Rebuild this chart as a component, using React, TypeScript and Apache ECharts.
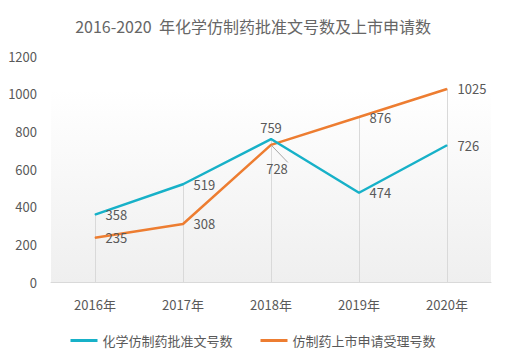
import React, { useEffect, useRef } from "react";
import * as echarts from "echarts";

const categories = ["2016年", "2017年", "2018年", "2019年", "2020年"];
const approvals = [358, 519, 759, 474, 726];
const applications = [235, 308, 728, 876, 1025];
const seriesNames = ["化学仿制药批准文号数", "仿制药上市申请受理号数"];
const titleText = "2016-2020  年化学仿制药批准文号数及上市申请数";

const FONT = "'Microsoft YaHei', 'Noto Sans CJK SC', sans-serif";
const TXT = "#595959";

export default function App() {
  const ref = useRef<HTMLDivElement>(null);
  useEffect(() => {
    if (!ref.current) return;
    const chart = echarts.init(ref.current, null, { renderer: "svg" });
    const dropData = categories.map((c, i) => [
      { coord: [i, Math.max(approvals[i], applications[i])] },
      { coord: [i, 0] },
    ]);
    const labelBase = {
      show: true,
      position: "right",
      distance: 10,
      color: TXT,
      fontSize: 13,
      fontFamily: FONT,
    };
    chart.setOption({
      animation: false,
      title: {
        text: titleText,
        left: "center",
        top: 13,
        textStyle: { color: "#666666", fontSize: 16, fontWeight: "normal", fontFamily: FONT },
      },
      legend: {
        top: 329,
        left: "center",
        itemWidth: 27,
        itemHeight: 3,
        itemGap: 28,
        icon: "rect",
        textStyle: { color: TXT, fontSize: 13, fontFamily: FONT },
        data: seriesNames,
      },
      grid: {
        left: 51,
        right: 15,
        top: 56,
        bottom: 76,
        show: true,
        borderWidth: 0,
        backgroundColor: new echarts.graphic.LinearGradient(0, 0, 0, 1, [
          { offset: 0, color: "#ffffff" },
          { offset: 0.15, color: "#ffffff" },
          { offset: 1, color: "#efefef" },
        ]),
      },
      xAxis: {
        type: "category",
        data: categories,
        boundaryGap: true,
        axisLine: { lineStyle: { color: "#d9d9d9" } },
        axisTick: { show: false },
        axisLabel: { color: TXT, fontSize: 13, fontFamily: FONT, margin: 16 },
      },
      yAxis: {
        type: "value",
        min: 0,
        max: 1200,
        interval: 200,
        axisLine: { show: false },
        axisTick: { show: false },
        splitLine: { show: false },
        axisLabel: {
          color: TXT,
          fontSize: 13,
          fontFamily: FONT,
          margin: 14,
          formatter: (v: number) => String(v),
        },
      },
      series: [
        {
          name: seriesNames[0],
          type: "line",
          data: approvals.map((v, i) =>
            i === 2 ? { value: v, label: { position: "top", distance: 5 } } : v
          ),
          symbol: "circle",
          symbolSize: 1,
          lineStyle: { color: "#17B1C8", width: 2.5 },
          itemStyle: { color: "#17B1C8" },
          label: labelBase,
          z: 3,
          markLine: {
            silent: true,
            symbol: ["none", "none"],
            label: { show: false },
            lineStyle: { type: "solid", color: "#d9d9d9", width: 1 },
            data: dropData,
            z: 1,
          },
        },
        {
          name: seriesNames[1],
          type: "line",
          data: applications.map((v, i) =>
            i === 2
              ? {
                  value: v,
                  label: { position: "bottom", distance: 17, offset: [6, 0] },
                  labelLine: { show: true, lineStyle: { color: "#a6a6a6", width: 1 } },
                }
              : v
          ),
          symbol: "circle",
          symbolSize: 1,
          lineStyle: { color: "#ED7D31", width: 2.5 },
          itemStyle: { color: "#ED7D31" },
          label: labelBase,
          z: 2,
        },
      ],
    });
    return () => chart.dispose();
  }, []);
  return <div ref={ref} style={{ width: 506, height: 358, position: "absolute", left: 0, top: 0 }} />;
}
